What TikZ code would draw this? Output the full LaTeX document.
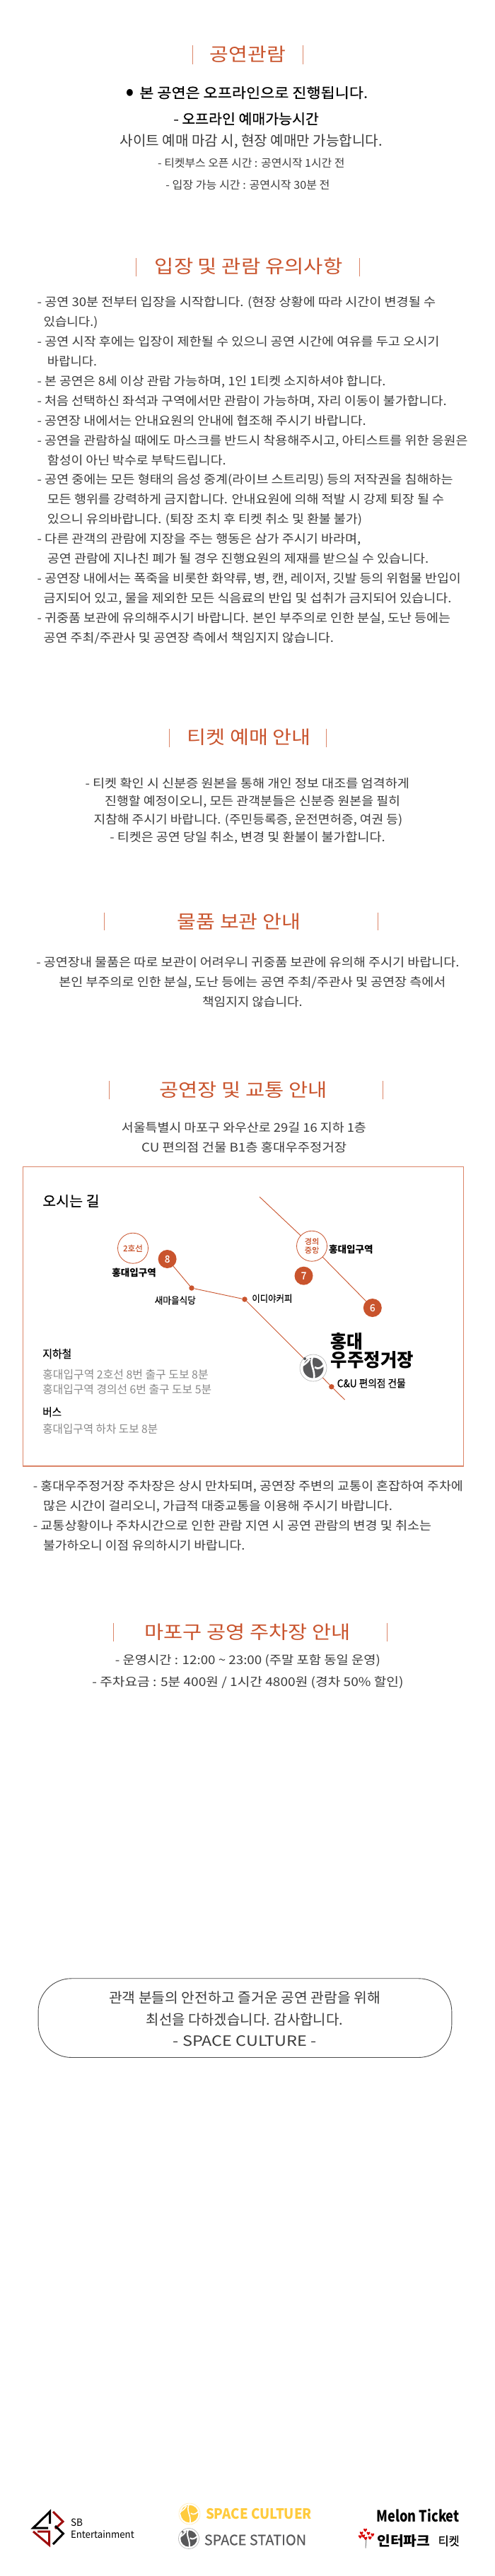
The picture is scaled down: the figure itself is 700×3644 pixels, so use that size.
\documentclass[tikz,border=0pt]{standalone}
\usepackage{fontspec}
\usepackage{graphicx}
\setmainfont{Noto Sans CJK KR}
\newfontfamily\medf[FakeBold=0.35]{Noto Sans CJK KR}
\definecolor{acc}{HTML}{C9542D}
\definecolor{barc}{HTML}{DB8568}
\definecolor{bodyc}{HTML}{3C3C3C}
\definecolor{greyc}{HTML}{8A8A8A}
\definecolor{yel}{HTML}{FFCB3D}
\definecolor{stat}{HTML}{58585A}
\newbox\flbox
\newcommand\fl[2]{\setbox\flbox=\hbox{#2}\pgfmathsetmacro\flr{(#1)/\the\wd\flbox}\scalebox{\flr}[1]{\copy\flbox}}
% name, X0, X1 (zoom units), y, style, text
\newcommand\tl[6]{\node[tx,#5,anchor=west] (#1) at ({(#2)/2.24},{#4}) {\fl{((#3)-(#2))/2.24}{#6}};}
\tikzset{
  tx/.style={inner sep=0pt,outer sep=0pt},
  fs/.style={font=\fontsize{#1}{#1}\selectfont,text height=0.84*#1pt,text depth=0.08*#1pt},
  title/.style={fs=26,text=acc},
  lead/.style={fs=20,text=black,font=\fontsize{20}{20}\selectfont\medf},
  sub/.style={fs=20,text=bodyc},
  small/.style={fs=15.5,text=bodyc},
  body/.style={fs=17,text=bodyc},
  maplab/.style={fs=13.5,text=black,font=\fontsize{13.5}{13.5}\selectfont\bfseries},
  maplabm/.style={fs=13.5,text=black,font=\fontsize{13.5}{13.5}\selectfont\medf},
  head/.style={fs=16,text=black,font=\fontsize{16}{16}\selectfont\medf},
  grey/.style={fs=16,text=greyc},
  barl/.style={draw=barc,line width=1pt},
  route/.style={draw=acc,line width=0.9pt},
  station/.style={circle,draw=acc,fill=white,line width=0.8pt,minimum size=43pt,inner sep=0pt},
  exitn/.style={circle,fill=acc,text=white,minimum size=26pt,inner sep=0pt,font=\fontsize{14}{14}\selectfont\medf},
  rdot/.style={circle,fill=acc,minimum size=7.5pt,inner sep=0pt},
  pics/heartp/.style={code={\fill (0,2.6) .. controls (-4,-0.5) and (-2.5,-3.6) .. (0,-1.4) .. controls (2.5,-3.6) and (4,-0.5) .. (0,2.6);}}
}
% x, y, disc colour, gap width, dot x, dot y, scale
\newcommand\sslogo[7]{%
\begin{scope}[shift={(#1,#2)},scale=#7]
\fill[#3] (0,0) circle (14.5);
\draw[white,line width=#4] (-1,-15.5) .. controls (-6,-5) and (3,2) .. (1,15.5);
\draw[white,line width=#4] (2,-1) .. controls (7,3) and (12,-1) .. (15.5,-5);
\draw[white,line width=#4] (-15.5,-3) .. controls (-11,-6) and (-8,-8) .. (-5,-13);
\fill[#3] (#5,#6) circle (2);
\end{scope}}
\begin{document}
\begin{tikzpicture}[x=1pt,y=-1pt]
\useasboundingbox (0,0) rectangle (700,3644);
\fill[white] (0,0) rectangle (700,3644);

% ---- section 1
\draw[barl] (272.5,64) -- (272.5,91);
\draw[barl] (428,64) -- (428,91);
\tl{t1}{665}{905}{77}{title}{공연관람}
\tl{a0}{400}{422}{131}{fs=11,text=black}{●}
\tl{a1}{442}{1165}{131}{lead}{본 공연은 오프라인으로 진행됩니다.}
\tl{a2}{550}{1010}{168}{lead}{- 오프라인 예매가능시간}
\tl{a3}{380}{1212}{199}{sub}{사이트 예매 마감 시, 현장 예매만 가능합니다.}
\tl{a4}{500}{1092}{231}{small}{- 티켓부스 오픈 시간 : 공연시작 1시간 전}
\tl{a5}{525}{1045}{262}{small}{- 입장 가능 시간 : 공연시작 30분 전}

% ---- section 2
\draw[barl] (192,365) -- (192,391);
\draw[barl] (508,365) -- (508,391);
\tl{t2}{490}{1085}{377}{title}{입장 및 관람 유의사항}
\tl{b1}{118}{1380}{427}{body}{- 공연 30분 전부터 입장을 시작합니다. (현장 상황에 따라 시간이 변경될 수}
\tl{b2}{138}{310}{455}{body}{있습니다.)}
\tl{b3}{118}{1392}{483.3}{body}{- 공연 시작 후에는 입장이 제한될 수 있으니 공연 시간에 여유를 두고 오시기}
\tl{b4}{150}{307}{511.3}{body}{바랍니다.}
\tl{b5}{118}{1222}{539.3}{body}{- 본 공연은 8세 이상 관람 가능하며, 1인 1티켓 소지하셔야 합니다.}
\tl{b6}{118}{1415}{567.3}{body}{- 처음 선택하신 좌석과 구역에서만 관람이 가능하며, 자리 이동이 불가합니다.}
\tl{b7}{118}{1160}{595.3}{body}{- 공연장 내에서는 안내요원의 안내에 협조해 주시기 바랍니다.}
\tl{b8}{118}{1482}{623.3}{body}{- 공연을 관람하실 때에도 마스크를 반드시 착용해주시고, 아티스트를 위한 응원은}
\tl{b9}{150}{716}{651.3}{body}{함성이 아닌 박수로 부탁드립니다.}
\tl{b10}{118}{1435}{678.3}{body}{- 공연 중에는 모든 형태의 음성 중계(라이브 스트리밍) 등의 저작권을 침해하는}
\tl{b11}{150}{1407}{706.3}{body}{모든 행위를 강력하게 금지합니다. 안내요원에 의해 적발 시 강제 퇴장 될 수}
\tl{b12}{150}{1147}{734.3}{body}{있으니 유의바랍니다. (퇴장 조치 후 티켓 취소 및 환불 불가)}
\tl{b13}{118}{1143}{762.3}{body}{- 다른 관객의 관람에 지장을 주는 행동은 삼가 주시기 바라며,}
\tl{b14}{150}{1358}{790.3}{body}{공연 관람에 지나친 폐가 될 경우 진행요원의 제재를 받으실 수 있습니다.}
\tl{b15}{118}{1460}{818.3}{body}{- 공연장 내에서는 폭죽을 비롯한 화약류, 병, 캔, 레이저, 깃발 등의 위험물 반입이}
\tl{b16}{138}{1430}{846.3}{body}{금지되어 있고, 물을 제외한 모든 식음료의 반입 및 섭취가 금지되어 있습니다.}
\tl{b17}{118}{1427}{874.3}{body}{- 귀중품 보관에 유의해주시기 바랍니다. 본인 부주의로 인한 분실, 도난 등에는}
\tl{b18}{138}{1057}{902.3}{body}{공연 주최/주관사 및 공연장 측에서 책임지지 않습니다.}

% ---- section 3
\draw[barl] (239.3,1031) -- (239.3,1057);
\draw[barl] (461.2,1031) -- (461.2,1057);
\tl{t3}{593}{985}{1043}{title}{티켓 예매 안내}
\tl{c1}{270}{1297}{1108}{body}{- 티켓 확인 시 신분증 원본을 통해 개인 정보 대조를 엄격하게}
\tl{c2}{332}{1268}{1133.3}{body}{진행할 예정이오니, 모든 관객분들은 신분증 원본을 필히}
\tl{c3}{297}{1275}{1158.7}{body}{지참해 주시기 바랍니다. (주민등록증, 운전면허증, 여권 등)}
\tl{c4}{348}{1220}{1184}{body}{- 티켓은 공연 당일 취소, 변경 및 환불이 불가합니다.}

% ---- section 4
\draw[barl] (147.3,1291) -- (147.3,1316);
\draw[barl] (534.4,1291) -- (534.4,1316);
\tl{t4}{562}{952}{1303.5}{title}{물품 보관 안내}
\tl{d1}{115}{1455}{1361.3}{body}{- 공연장내 물품은 따로 보관이 어려우니 귀중품 보관에 유의해 주시기 바랍니다.}
\tl{d2}{187}{1412}{1389.3}{body}{본인 부주의로 인한 분실, 도난 등에는 공연 주최/주관사 및 공연장 측에서}
\tl{d3}{641}{958}{1417.3}{body}{책임지지 않습니다.}

% ---- section 5
\draw[barl] (154,1529.3) -- (154,1555.3);
\draw[barl] (541.5,1529.3) -- (541.5,1555.3);
\tl{t5}{505}{1037}{1541.7}{title}{공연장 및 교통 안내}
\tl{e1}{385}{1160}{1594.7}{body}{서울특별시 마포구 와우산로 29길 16 지하 1층}
\tl{e2}{448}{1098}{1622.7}{body}{CU 편의점 건물 B1층 홍대우주정거장}

\node[draw=barc,line width=1.4pt,minimum width=623pt,minimum height=423.3pt,inner sep=0pt,anchor=north west] (mapbox) at (31.7,1650) {};
\tl{m0}{135}{315}{1698}{fs=22,text=black,font=\fontsize{20}{20}\selectfont\medf}{오시는 길}

% map stations and route
\coordinate (rtop) at (367,1693);
\node[station] (jung) at (441,1762.7) {};
\node[station] (line2) at (188,1765.7) {};
\node[exitn] (x8) at (236.6,1781) {8};
\node[exitn] (x7) at (429.5,1804.7) {7};
\node[exitn] (x6) at (526.8,1850) {6};
\node[rdot] (p1) at (271,1822) {};
\node[rdot] (p2) at (346,1838) {};
\node[rdot] (p3) at (468.8,1961.7) {};
\coordinate (rend) at (487.5,1980);
\node[circle,draw=black!30,fill=white,line width=0.6pt,minimum size=38pt,inner sep=0pt] (hall) at (443,1935) {};
\draw[route] (rtop) -- (jung);
\draw[route] (jung) -- (x6);
\draw[route] (x8) -- (p1);
\draw[route] (p1) -- (p2);
\draw[route] (p2) -- (hall);
\draw[route] (hall) -- (p3);
\draw[route] (p3) -- (rend);
\sslogo{443}{1935}{stat}{2.6pt}{-12}{-13}{1}
\tl{m1}{965}{1011}{1756}{fs=11,text=acc,font=\fontsize{11}{11}\selectfont\medf}{경의}
\tl{m2}{965}{1011}{1768.3}{fs=11,text=acc,font=\fontsize{11}{11}\selectfont\medf}{중앙}
\tl{m3}{390}{452}{1765.7}{fs=11.5,text=acc,font=\fontsize{11.5}{11.5}\selectfont\medf}{2호선}
\tl{m4}{1042}{1182}{1767.7}{maplab}{홍대입구역}
\tl{m5}{355}{495}{1800}{maplab}{홍대입구역}
\tl{m6}{490}{620}{1839.3}{maplabm}{새마을식당}
\tl{m7}{798}{926}{1836.7}{maplabm}{이디야커피}
\tl{m8}{1048}{1150}{1897.7}{fs=26,text=black,font=\fontsize{26}{26}\selectfont\bfseries}{홍대}
\tl{m9}{1048}{1310}{1924}{fs=26,text=black,font=\fontsize{26}{26}\selectfont\bfseries}{우주정거장}
\tl{m10}{1068}{1285}{1956.7}{fs=15,text=black,font=\fontsize{15}{15}\selectfont\medf}{C\&U 편의점 건물}
\tl{m11}{135}{227}{1915}{head}{지하철}
\tl{m12}{135}{660}{1944}{grey}{홍대입구역 2호선 8번 출구 도보 8분}
\tl{m13}{135}{670}{1965}{grey}{홍대입구역 경의선 6번 출구 도보 5분}
\tl{m14}{135}{195}{1997.3}{head}{버스}
\tl{m15}{135}{500}{2021.7}{grey}{홍대입구역 하차 도보 8분}

% ---- notes
\tl{f1}{105}{1467}{2102.3}{body}{- 홍대우주정거장 주차장은 상시 만차되며, 공연장 주변의 교통이 혼잡하여 주차에}
\tl{f2}{137}{1243}{2130.3}{body}{많은 시간이 걸리오니, 가급적 대중교통을 이용해 주시기 바랍니다.}
\tl{f3}{105}{1367}{2158.3}{body}{- 교통상황이나 주차시간으로 인한 관람 지연 시 공연 관람의 변경 및 취소는}
\tl{f4}{137}{776}{2186.3}{body}{불가하오니 이점 유의하시기 바랍니다.}

% ---- section 6
\draw[barl] (160.3,2295.7) -- (160.3,2321.7);
\draw[barl] (547.8,2295.7) -- (547.8,2321.7);
\tl{t6}{458}{1110}{2308.3}{title}{마포구 공영 주차장 안내}
\tl{g1}{365}{1205}{2348.3}{body}{- 운영시간 : 12:00 \textasciitilde{} 23:00 (주말 포함 동일 운영)}
\tl{g2}{292}{1278}{2379.3}{body}{- 주차요금 : 5분 400원 / 1시간 4800원 (경차 50\% 할인)}

% ---- closing box
\node[draw=black!70,line width=0.9pt,rounded corners=47pt,minimum width=584.8pt,minimum height=111.7pt,inner sep=0pt,anchor=north west] (closing) at (53.6,2798.3) {};
\tl{h1}{345}{1205}{2826}{sub}{관객 분들의 안전하고 즐거운 공연 관람을 위해}
\tl{h2}{463}{1087}{2857.3}{sub}{최선을 다하겠습니다. 감사합니다.}
\tl{h3}{548}{1003}{2887.3}{sub}{- SPACE CULTURE -}

% ---- logos
\begin{scope}[line join=miter,line width=3pt]
\draw[black] (70.5,3570) -- (70.5,3553) -- (47,3576) -- (68,3576);
\draw[red!60!black!95] (47,3581) -- (69.5,3600) -- (69.5,3581) -- (53,3581);
\draw[red!60!black!95] (75,3553) -- (89,3567) -- (78,3577);
\draw[black] (78,3573) -- (89.5,3584) -- (75,3599);
\end{scope}
\tl{k1}{224}{262}{3568.3}{fs=14,text=black}{SB}
\tl{k2}{224}{425}{3585}{fs=14,text=black}{Entertainment}
\node[circle,draw=yel!40,fill=white,line width=0.6pt,minimum size=30pt,inner sep=0pt] (lg1) at (268,3556) {};
\sslogo{268}{3556}{yel}{1.6pt}{-13.5}{0}{0.85}
\tl{k3}{652}{988}{3556}{fs=20,text=yel,font=\fontsize{20}{20}\selectfont\bfseries}{SPACE CULTUER}
\node[circle,draw=black!30,fill=white,line width=0.6pt,minimum size=29pt,inner sep=0pt] (lg2) at (267,3591) {};
\sslogo{267}{3591}{stat}{2pt}{-11}{-12}{0.8}
\tl{k4}{647}{970}{3592.7}{fs=20,text=stat,font=\fontsize{20}{20}\selectfont\medf}{SPACE STATION}
\tl{k5}{1193}{1455}{3559}{fs=22,text=black,font=\fontsize{22}{22}\selectfont\bfseries}{Melon Ticket}
\draw[black!50,line width=1pt] (518,3590) -- (517,3604.5);
\foreach \hx/\hy in {1157/537,1145/550,1167/551,1180/557,1141/565,1158/572,1172/570,1151/562}
  \pic[red!85!black] at ({\hx/2.24},{3400+\hy/3}) {heartp};
\tl{k6}{1195}{1363}{3594.3}{fs=19,text=black,font=\fontsize{19}{19}\selectfont\bfseries}{인터파크}
\tl{k7}{1388}{1455}{3594.3}{fs=17,text=black,font=\fontsize{17}{17}\selectfont\medf}{티켓}
\end{tikzpicture}
\end{document}
